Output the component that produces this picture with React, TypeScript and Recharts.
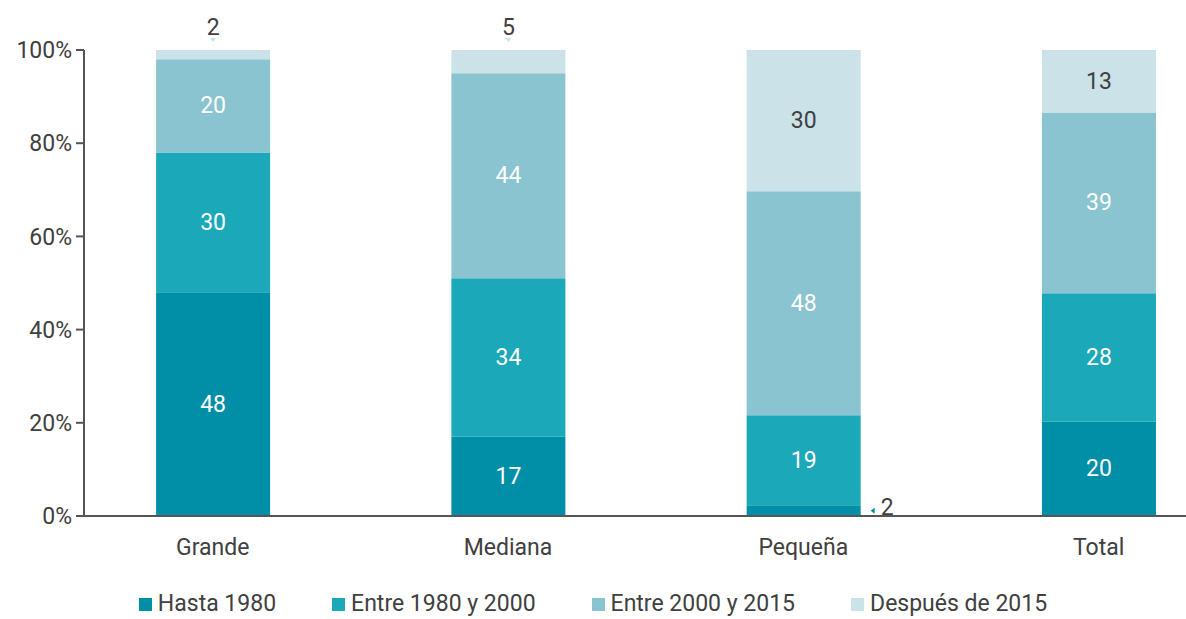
import { BarChart, Bar, XAxis, YAxis, Legend, LabelList } from 'recharts';

const categories = ['Grande', 'Mediana', 'Pequeña', 'Total'];
const hasta1980 = [48, 17, 2.3, 20.2];
const entre1980y2000 = [30, 34, 19.3, 27.6];
const entre2000y2015 = [20, 44, 48.1, 38.8];
const despuesDe2015 = [2, 5, 30.3, 13.4];
const yTicks = [0, 20, 40, 60, 80, 100];

const seriesInfo = [
  { key: 'hasta1980', name: 'Hasta 1980', color: '#008fa7', text: '#ffffff' },
  { key: 'entre1980y2000', name: 'Entre 1980 y 2000', color: '#1ba8b9', text: '#ffffff' },
  { key: 'entre2000y2015', name: 'Entre 2000 y 2015', color: '#8ac4d0', text: '#ffffff' },
  { key: 'despuesDe2015', name: 'Después de 2015', color: '#cae2e8', text: '#404040' },
];

const data = categories.map((name, i) => ({
  idx: i,
  name,
  hasta1980: hasta1980[i],
  entre1980y2000: entre1980y2000[i],
  entre2000y2015: entre2000y2015[i],
  despuesDe2015: despuesDe2015[i],
}));

const FONT = 'Roboto, sans-serif';
const TEXT = '#404040';

const makeLabel = (s: number) => (props: any) => {
  const { x, y, width, height, value } = props;
  const info = seriesInfo[s];
  const label = Math.round(Number(value));
  const cx = x + width / 2;
  if (height < 30 && s === 3) {
    // small top segment: label sits above the bar
    return (
      <g>
        <path d={`M${cx - 3},${y - 12} L${cx + 3},${y - 12} L${cx},${y - 8} Z`} fill={info.color} />
        <text x={cx} y={y - 23} textAnchor="middle" dominantBaseline="central" fill={TEXT} fontSize={23} fontFamily={FONT}>
          {label}
        </text>
      </g>
    );
  }
  if (height < 30 && s === 0) {
    // small bottom segment: label sits right of the bar
    const cy = y + height / 2;
    return (
      <g>
        <path d={`M${x + width + 14},${cy - 3} L${x + width + 14},${cy + 3} L${x + width + 10},${cy} Z`} fill={info.color} />
        <text x={x + width + 20} y={cy - 3} textAnchor="start" dominantBaseline="central" fill={TEXT} fontSize={23} fontFamily={FONT}>
          {label}
        </text>
      </g>
    );
  }
  return (
    <text x={cx} y={y + height / 2} textAnchor="middle" dominantBaseline="central" fill={info.text} fontSize={23} fontFamily={FONT}>
      {label}
    </text>
  );
};

const renderLegend = () => (
  <div style={{ display: 'flex', justifyContent: 'center', paddingTop: 26, fontFamily: FONT, fontSize: 23, color: TEXT, lineHeight: '24px' }}>
    {seriesInfo.map((s) => (
      <div key={s.key} style={{ display: 'flex', alignItems: 'center', margin: '0 28px' }}>
        <span style={{ width: 13, height: 13, background: s.color, marginRight: 6, display: 'inline-block' }} />
        {s.name}
      </div>
    ))}
  </div>
);

export default function App() {
  return (
    <div style={{ position: 'absolute', left: 0, top: 0, background: '#fff' }}>
      <BarChart width={1186} height={619} data={data} margin={{ top: 50, right: 0, bottom: 2, left: 0 }}>
        <XAxis
          dataKey="idx"
          type="number"
          domain={[-0.436, 3.296]}
          ticks={[0, 1, 2, 3]}
          tickFormatter={(v: number) => categories[v]}
          tickLine={false}
          tickMargin={17}
          height={50}
          axisLine={{ stroke: '#555', strokeWidth: 2 }}
          tick={{ fill: TEXT, fontSize: 23, fontFamily: FONT }}
          allowDataOverflow
        />
        <YAxis
          domain={[0, 100]}
          ticks={yTicks}
          width={84}
          tickSize={8}
          tickMargin={4}
          tickFormatter={(v: number) => `${v}%`}
          axisLine={{ stroke: '#555', strokeWidth: 2 }}
          tickLine={{ stroke: '#555', strokeWidth: 2 }}
          tick={{ fill: TEXT, fontSize: 23, fontFamily: FONT }}
        />
        <Legend verticalAlign="bottom" height={51} content={renderLegend} />
        {seriesInfo.map((s, i) => (
          <Bar key={s.key} dataKey={s.key} name={s.name} stackId="a" fill={s.color} barSize={114} isAnimationActive={false}>
            <LabelList dataKey={s.key} content={makeLabel(i)} />
          </Bar>
        ))}
      </BarChart>
    </div>
  );
}
